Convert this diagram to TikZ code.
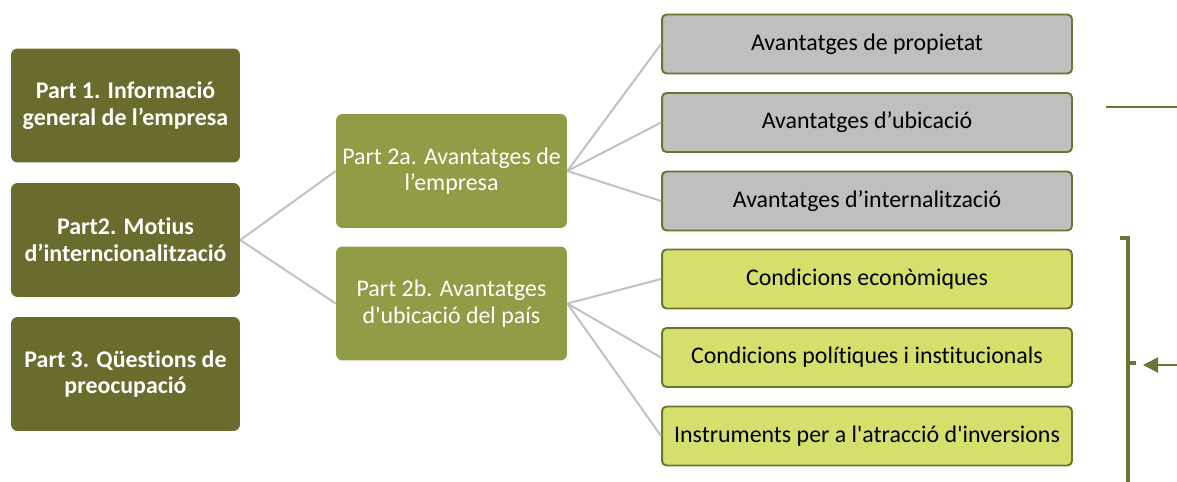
\documentclass[tikz,border=0pt]{standalone}
\usepackage{fontspec}
\setmainfont{Carlito}[Ligatures=NoCommon]
\usepackage{xcolor}
\usepackage{tikz}
\usetikzlibrary{arrows.meta}

\definecolor{oliveDark}{HTML}{6A6C2E}
\definecolor{oliveMid}{HTML}{929B45}
\definecolor{oliveLine}{HTML}{6E7233}
\definecolor{greyBox}{HTML}{BFBFBF}
\definecolor{limeBox}{HTML}{D4E06B}
\definecolor{linkGrey}{HTML}{C0C0C0}

\begin{document}
\begin{tikzpicture}[
  x=0.02cm, y=-0.02cm,
  part/.style={fill=oliveDark, rounded corners=0.13cm, minimum width=4.58cm,
    minimum height=2.28cm, align=center, text=white, font=\fontsize{13.6}{15.2}\selectfont\bfseries},
  subpart/.style={fill=oliveMid, rounded corners=0.13cm, minimum width=4.62cm,
    minimum height=2.28cm, align=center, text=white, font=\fontsize{13.6}{15.2}\selectfont},
  item/.style={draw=oliveLine, line width=1.1pt, rounded corners=0.09cm,
    minimum width=8.2cm, minimum height=1.18cm, align=center, font=\fontsize{13.6}{15.2}\selectfont},
  owner/.style={item, fill=greyBox},
  country/.style={item, fill=limeBox},
  link/.style={draw=linkGrey, line width=1.1pt},
  brace/.style={draw=oliveLine, line width=2.8pt},
  arrow/.style={draw=oliveLine, line width=1.1pt, -{Triangle[length=0.3cm,width=0.3cm]}}
]
\path[use as bounding box] (0,0) rectangle (1177,481);

% left column
\node[part] (p1) at (125.5,105.5) {Part 1. Informació\\general de l’empresa};
\node[part] (p2) at (125.5,240) {Part2. Motius\\d’interncionalització};
\node[part] (p3) at (125.5,374) {Part 3. Qüestions de\\preocupació};

% middle column
\node[subpart] (p2a) at (451.5,171) {Part 2a. Avantatges de\\l’empresa};
\node[subpart] (p2b) at (451.5,303.5) {Part 2b. Avantatges\\d\textquotesingle ubicació del país};

% right column
\node[owner] (prop) at (867,44) {Avantatges de propietat};
\node[owner] (ubic) at (867,122.5) {Avantatges d’ubicació};
\node[owner] (inter) at (867,201) {Avantatges d’internalització};
\node[country] (econ) at (867,279) {Condicions econòmiques};
\node[country] (poli) at (867,357.5) {Condicions polítiques i institucionals};
\node[country] (instr) at (867,436) {Instruments per a l\textquotesingle atracció d\textquotesingle inversions};

\draw[link] (p2.east) -- (p2a.west);
\draw[link] (p2.east) -- (p2b.west);
\foreach \n in {prop,ubic,inter}
  \draw[link] (p2a.east) -- (\n.west);
\foreach \n in {econ,poli,instr}
  \draw[link] (p2b.east) -- (\n.west);

% bracket and arrow on the right
\coordinate (lineStart) at (1106,107);
\coordinate (lineEnd) at (1177,107);
\draw[draw=oliveLine, line width=1.1pt] (lineStart) -- (lineEnd);

\draw[brace] (1120,238) -- (1128,238) -- (1128,490);
\draw[brace] (1128,363) -- (1136,363);
\coordinate (arrowFrom) at (1177,365);
\coordinate (arrowTip) at (1143,365);
\draw[arrow] (arrowFrom) -- (arrowTip);

\end{tikzpicture}
\end{document}
